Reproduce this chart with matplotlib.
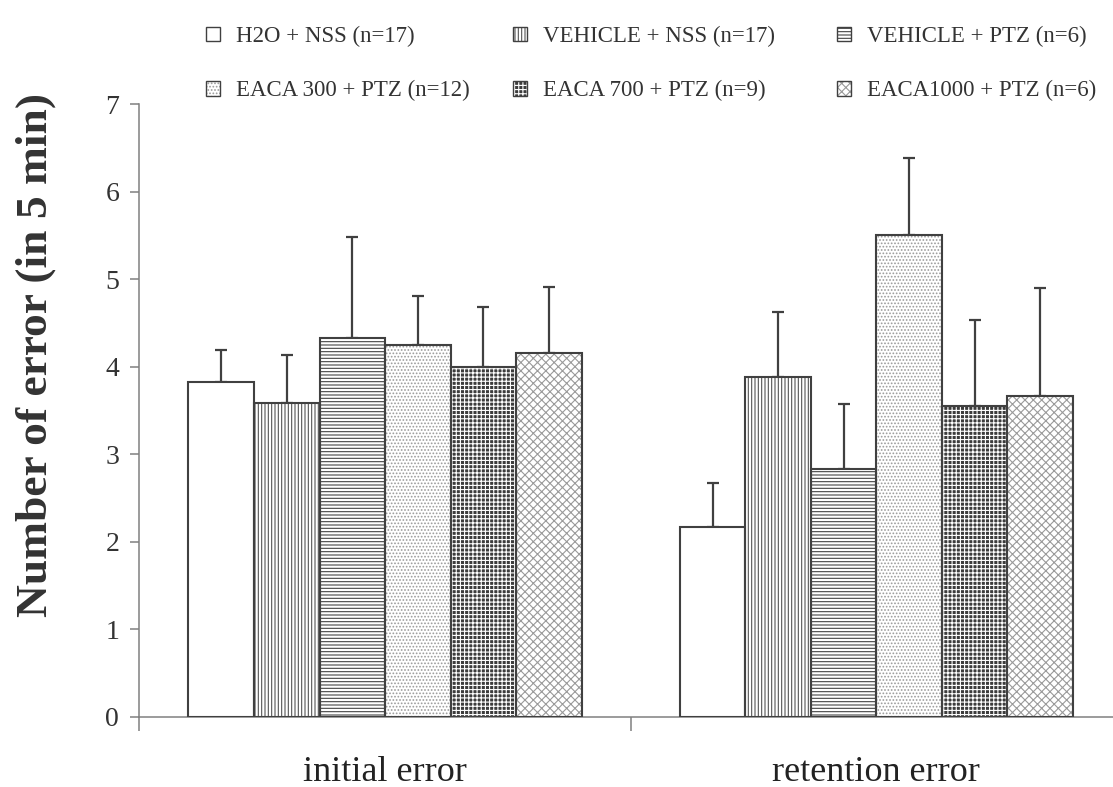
import numpy as np
import matplotlib
matplotlib.use('Agg')
import matplotlib.pyplot as plt
from matplotlib.patches import Patch

# data
groups = ['initial error', 'retention error']
series = ['H2O + NSS (n=17)', 'VEHICLE + NSS (n=17)', 'VEHICLE + PTZ (n=6)',
          'EACA 300 + PTZ (n=12)', 'EACA 700 + PTZ (n=9)', 'EACA1000 + PTZ (n=6)']
means_initial = [3.82, 3.59, 4.33, 4.25, 4.00, 4.16]
means_retention = [2.17, 3.88, 2.83, 5.50, 3.55, 3.66]
sem_initial = [0.37, 0.54, 1.15, 0.56, 0.68, 0.75]
sem_retention = [0.50, 0.75, 0.74, 0.88, 0.98, 1.24]

# fill style per series: face, hatch, hatch colour
styles = [
    ('white', '', '#404040'),
    ('white', '|||||', '#555555'),
    ('white', '-----', '#444444'),
    ('white', '.....', '#9a9a9a'),
    ('#3c3c3c', '++++', 'white'),
    ('white', 'xxxx', '#9a9a9a'),
]


def main():
    plt.rcParams['font.family'] = ['Liberation Serif', 'DejaVu Serif']
    plt.rcParams['hatch.linewidth'] = 0.8

    fig = plt.figure(figsize=(11.13, 7.87), dpi=100)
    ax = fig.add_axes([0.1252, 0.0893, 0.883, 0.7783])

    means = np.array([means_initial, means_retention])
    errs = np.array([sem_initial, sem_retention])
    n = len(series)
    w = 0.8 / n
    xg = np.arange(len(groups))

    handles = []
    for i in range(n):
        face, hatch, hcol = styles[i]
        x = xg + (i - (n - 1) / 2) * w
        ax.errorbar(x, means[:, i], yerr=[np.zeros(2), errs[:, i]], fmt='none',
                    ecolor='#404040', elinewidth=1.6, capsize=4, capthick=1.6, zorder=1)
        # hatch layer then outline
        ax.bar(x, means[:, i], w, color=face, hatch=hatch, edgecolor=hcol,
               linewidth=0, zorder=2)
        ax.bar(x, means[:, i], w, fill=False, edgecolor='#404040',
               linewidth=1.5, zorder=3)
        handles.append((Patch(facecolor=face, hatch=hatch, edgecolor=hcol, linewidth=0),
                        Patch(fill=False, edgecolor='#404040', linewidth=1.0)))

    ax.set_xlim(-0.5, 1.5)
    ax.set_ylim(0, 7)
    ax.set_yticks(range(8))
    ax.set_xticks(xg)
    ax.set_xticklabels(groups, fontsize=26)
    ax.set_xticks([-0.5, 0.5, 1.5], minor=True)
    ax.tick_params(axis='x', which='major', length=0, pad=28)
    ax.tick_params(axis='x', which='minor', length=10, width=1.1, color='#808080',
                   direction='out')
    ax.tick_params(axis='y', labelsize=20, length=6.5, width=1.1, color='#808080',
                   pad=8, labelcolor='#333333')
    ax.tick_params(axis='x', labelcolor='#222222')

    for s in ['top', 'right']:
        ax.spines[s].set_visible(False)
    for s in ['left', 'bottom']:
        ax.spines[s].set_color('#808080')
        ax.spines[s].set_linewidth(1.1)

    ax.set_ylabel('Number of error (in 5 min)', fontsize=32.7, fontweight='bold',
                  color='#333333')
    ax.yaxis.set_label_coords(-0.085, 0.591)

    # one legend per column, rows: first three series then last three
    col_x = [0.1851, 0.4609, 0.752]
    for c in range(3):
        idx = [c, c + 3]
        leg = fig.legend([handles[k] for k in idx], [series[k] for k in idx],
                         loc='upper left', bbox_to_anchor=(col_x[c], 0.967),
                         frameon=False, fontsize=16.5, handlelength=0.6,
                         handleheight=0.6, handletextpad=0.7, labelspacing=1.45,
                         borderpad=0, borderaxespad=0)
        for t in leg.get_texts():
            t.set_color('#333333')

    fig.savefig('out.png', dpi=100)


if __name__ == '__main__':
    main()
